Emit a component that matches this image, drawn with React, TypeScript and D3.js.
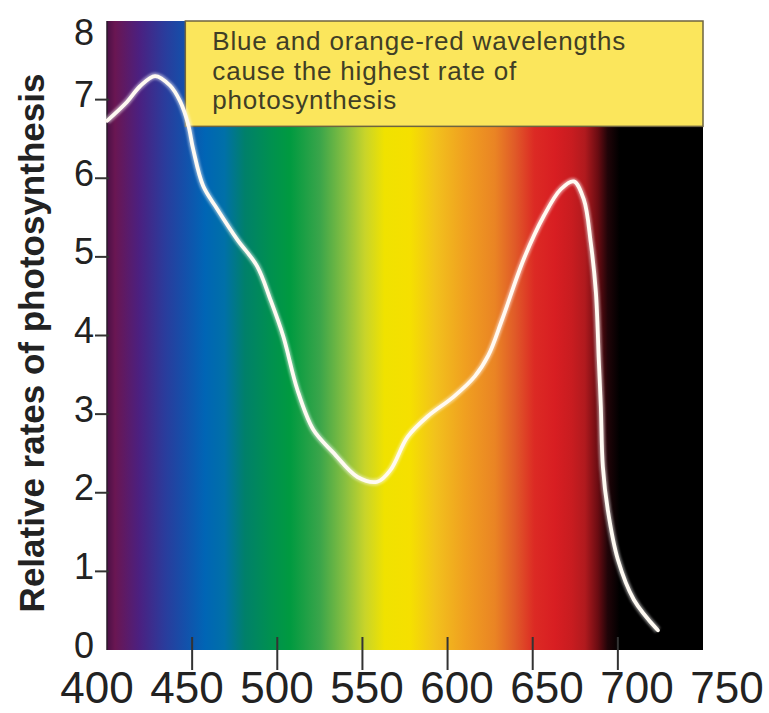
import React from "react";
import * as d3 from "d3";

// Action spectrum
const wavelengths = [400, 411.7, 419.4, 428.2, 437, 442.9, 447.6, 450.6, 456.5, 464.7, 476.5, 488.2, 495.9, 503.5, 511.8, 521.2, 532.9, 547.1, 558.8, 566.5, 576.5, 588.2, 603.5, 616, 624, 632, 644.7, 656.5, 666.5, 674.1, 680, 684.1, 687.1, 688.8, 690, 691.2, 694.1, 700, 709.4, 723.5];
const rates = [6.73, 6.97, 7.17, 7.3, 7.18, 6.98, 6.69, 6.37, 5.9, 5.61, 5.22, 4.88, 4.46, 3.99, 3.31, 2.8, 2.51, 2.2, 2.14, 2.29, 2.71, 2.97, 3.22, 3.48, 3.75, 4.2, 4.97, 5.52, 5.86, 5.96, 5.73, 5.18, 4.55, 3.69, 3.1, 2.33, 1.78, 1.15, 0.64, 0.25];

const xTicks = [400, 450, 500, 550, 600, 650, 700, 750];
const yTicks = [0, 1, 2, 3, 4, 5, 6, 7, 8];
const xTickMarks = [450, 500, 550, 600, 650, 700];
const yTickMarks = [1, 2, 3, 4, 5, 6, 7];

// spectrum colour stops by wavelength (nm)
const spectrumNm = [400, 404.7, 419, 434, 445.8, 457.5, 469, 481, 495.7, 507.5, 525, 539.8, 551.5, 563, 578, 592.6, 610, 627.8, 639.6, 651, 663, 673, 680.7, 688.3, 694, 701, 750];
const spectrumColor = ["#4a1046", "#6a1652", "#4b2080", "#2a3c9c", "#1450aa", "#0065b5", "#0070a8", "#00806a", "#009050", "#009a40", "#3aa54a", "#88bf40", "#c8d42a", "#f0e200", "#f5e000", "#f2c21c", "#f0a020", "#ea8424", "#e05a28", "#dc2a24", "#d81e22", "#c81c20", "#b01a1e", "#6a0c12", "#200408", "#000000", "#000000"];

const noteLines = ["Blue and orange-red wavelengths", "cause the highest rate of", "photosynthesis"];
const noteFromNm = 446;
const noteBottomRate = 6.66;

const yTitle = "Relative rates of photosynthesis";

const W = 769;
const H = 713;
const FONT = "'Liberation Sans', Arial, Helvetica, sans-serif";

export default function App() {
  const x = d3.scaleLinear().domain([400, 750]).range([107, 703]);
  const y = d3.scaleLinear().domain([0, 8]).range([650, 21]);
  const xLabel = d3.scaleLinear().domain([400, 750]).range([97, 727]);

  const pts = wavelengths.map((w, i) => [w, rates[i]] as [number, number]);
  const line = d3
    .line<[number, number]>()
    .x((d) => x(d[0]))
    .y((d) => y(d[1]))
    .curve(d3.curveCatmullRom.alpha(0.5));
  const path = line(pts) || "";

  const [x0, x1] = x.range();
  const [yb, yt] = y.range();

  return (
    <svg
      width={W}
      height={H}
      style={{ position: "absolute", left: 0, top: 0, display: "block", background: "#fff" }}
      fontFamily={FONT}
    >
      <defs>
        <linearGradient id="spec" gradientUnits="userSpaceOnUse" x1={x0} x2={x1} y1={0} y2={0}>
          {spectrumNm.map((nm, i) => (
            <stop key={i} offset={(x(nm) - x0) / (x1 - x0)} stopColor={spectrumColor[i]} />
          ))}
        </linearGradient>
        <filter id="soft" x="-5%" y="-5%" width="110%" height="110%">
          <feGaussianBlur stdDeviation="1.2" />
        </filter>
      </defs>

      {/* spectrum background */}
      <rect x={x0} y={yt} width={x1 - x0} height={yb - yt} fill="url(#spec)" />
      <line x1={x0} x2={x0} y1={yt} y2={yb} stroke="#2a1a2a" strokeWidth={1.5} />

      {/* annotation box */}
      <rect
        x={x(noteFromNm)}
        y={yt}
        width={x1 - x(noteFromNm)}
        height={y(noteBottomRate) - yt}
        fill="#fbe65c"
        stroke="#6e6440"
        strokeWidth={1.5}
      />
      {noteLines.map((t, i) => (
        <text
          key={i}
          x={x(noteFromNm) + 27}
          y={yt + 29 + i * 29.5}
          fontSize={26}
          fill="#403e26"
          letterSpacing={0.8}
        >
          {t}
        </text>
      ))}

      {/* curve */}
      <path d={path} fill="none" stroke="#ffffff" strokeOpacity={0.45} strokeWidth={7} filter="url(#soft)" />
      <path d={path} fill="none" stroke="#fffaf2" strokeWidth={3.8} strokeLinecap="round" />

      {/* x ticks */}
      {xTickMarks.map((t) => (
        <line key={t} x1={x(t)} x2={x(t)} y1={yb - 13} y2={yb + 20} stroke="#333" strokeWidth={2} />
      ))}
      {xTicks.map((t) => (
        <text key={t} x={xLabel(t)} y={703} fontSize={44} textAnchor="middle" fill="#222">
          {t}
        </text>
      ))}

      {/* y ticks */}
      {yTickMarks.map((t) => (
        <line key={t} x1={95} x2={x0 + 2} y1={y(t)} y2={y(t)} stroke="#333" strokeWidth={2} />
      ))}
      {yTicks.map((t) => (
        <text
          key={t}
          x={94}
          y={Math.max(y(t) - 2, yt + 14)}
          fontSize={36}
          textAnchor="end"
          dominantBaseline="middle"
          fill="#222"
        >
          {t}
        </text>
      ))}

      {/* y title */}
      <text
        transform={`translate(44, ${(618 + 68) / 2}) rotate(-90)`}
        textAnchor="middle"
        fontSize={35}
        fontWeight="bold"
        fill="#222"
      >
        {yTitle}
      </text>
    </svg>
  );
}
